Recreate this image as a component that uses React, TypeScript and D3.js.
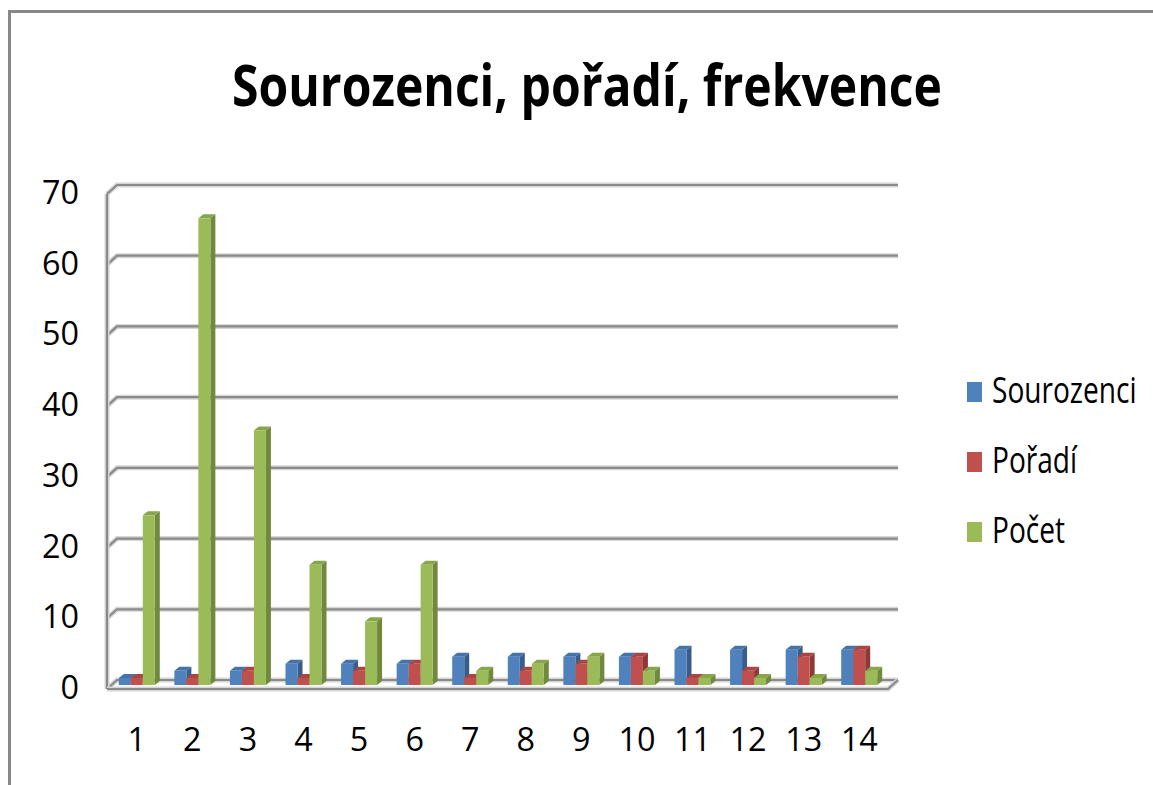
import React from 'react';
import * as d3 from 'd3';

const categories = ['1', '2', '3', '4', '5', '6', '7', '8', '9', '10', '11', '12', '13', '14'];
const sourozenci = [1, 2, 2, 3, 3, 3, 4, 4, 4, 4, 5, 5, 5, 5];
const poradi = [1, 1, 2, 1, 2, 3, 1, 2, 3, 4, 1, 2, 4, 5];
const pocet = [24, 66, 36, 17, 9, 17, 2, 3, 4, 2, 1, 1, 1, 2];
const seriesNames = ['Sourozenci', 'Pořadí', 'Počet'];
const yTicks = [0, 10, 20, 30, 40, 50, 60, 70];

const colors = ['#4F81BD', '#C0504D', '#9BBB59'];
const sideColors = ['#385D8A', '#8C3A38', '#71893F'];
const topColors = ['#4572A7', '#A94542', '#87A64B'];

const FONT = '"Open Sans", "Noto Sans", sans-serif';
const SX = 0.78; // legend text is horizontally squeezed
const SX_AXIS = 0.98;

function App() {
    const width = 1153;
    const height = 785;
    const series = [sourozenci, poradi, pocet];

    // back wall scale and bar scale (bars stand a bit in front of the wall)
    const yBack = d3.scaleLinear().domain([0, 70]).range([680, 185]);
    const yBar = d3.scaleLinear().domain([0, 70]).range([685, 190]);
    const x = d3.scaleBand().domain(categories).range([109, 887]);

    const wallDx = 10; // depth of left wall / floor
    const wallDy = 9;
    const backLeft = 117;
    const backRight = 898;

    const barW = 12;
    const depthX = 5;
    const depthY = 4;

    const grid = (y: number) =>
        `M${backLeft - wallDx},${y + wallDy} L${backLeft},${y} L${backRight},${y}`;

    return (
        <svg width={width} height={height} style={{ position: 'absolute', left: 0, top: 0 }}>
            <rect x={0} y={0} width={width} height={height} fill="#fff" />
            {/* outer frame (only top and left visible) */}
            <path d={`M9.5,${height} L9.5,11.5 L${width},11.5`} fill="none" stroke="#888" strokeWidth={3} />

            <text
                x={587}
                y={106}
                textAnchor="middle"
                fontFamily={FONT}
                fontWeight={700}
                fontSize={58}
                textLength={710}
                lengthAdjust="spacingAndGlyphs"
                fill="#000"
            >
                Sourozenci, pořadí, frekvence
            </text>

            {/* gridlines and walls */}
            <g fill="none" strokeLinejoin="miter">
                {yTicks.map((t) => (
                    <g key={t}>
                        <path d={grid(yBack(t))} stroke="#d6d6d6" strokeWidth={5} />
                        <path d={grid(yBack(t))} stroke="#8a8a8a" strokeWidth={2.2} />
                    </g>
                ))}
                <path
                    d={`M${backLeft - wallDx},${yBack(70) + wallDy} L${backLeft - wallDx},${yBack(0) + wallDy}`}
                    stroke="#d6d6d6"
                    strokeWidth={5}
                />
                <path
                    d={`M${backLeft - wallDx},${yBack(70) + wallDy} L${backLeft - wallDx},${yBack(0) + wallDy}`}
                    stroke="#8a8a8a"
                    strokeWidth={2.2}
                />
                <path
                    d={`M${backLeft - wallDx},${yBack(0) + wallDy} L${backRight - wallDx},${yBack(0) + wallDy} L${backRight},${yBack(0)}`}
                    stroke="#d6d6d6"
                    strokeWidth={5}
                />
                <path
                    d={`M${backLeft - wallDx},${yBack(0) + wallDy} L${backRight - wallDx},${yBack(0) + wallDy} L${backRight},${yBack(0)}`}
                    stroke="#8a8a8a"
                    strokeWidth={2.2}
                />
            </g>

            {/* bars */}
            {categories.map((c, i) => {
                const cx = (x(c) as number) + x.bandwidth() / 2;
                const x0 = cx - (barW * series.length) / 2;
                return (
                    <g key={c}>
                        {series.map((s, j) => {
                            const bx = x0 + j * barW;
                            const top = yBar(s[i]);
                            const base = yBar(0);
                            return (
                                <g key={j}>
                                    <path
                                        d={`M${bx + barW},${top} L${bx + barW + depthX},${top - depthY} L${bx + barW + depthX},${base - depthY} L${bx + barW},${base} Z`}
                                        fill={sideColors[j]}
                                    />
                                    <path
                                        d={`M${bx},${top} L${bx + depthX},${top - depthY} L${bx + barW + depthX},${top - depthY} L${bx + barW},${top} Z`}
                                        fill={topColors[j]}
                                    />
                                    <rect x={bx} y={top} width={barW} height={base - top} fill={colors[j]} />
                                </g>
                            );
                        })}
                    </g>
                );
            })}

            {/* y axis labels */}
            {yTicks.map((t) => (
                <text
                    key={t}
                    transform={`translate(79,${yBar(t) + 14}) scale(${SX_AXIS},1)`}
                    textAnchor="end"
                    fontFamily={FONT}
                    fontSize={33}
                    fill="#000"
                >
                    {t}
                </text>
            ))}

            {/* x axis labels */}
            {categories.map((c) => (
                <text
                    key={c}
                    transform={`translate(${(x(c) as number) + x.bandwidth() / 2},751) scale(${SX_AXIS},1)`}
                    textAnchor="middle"
                    fontFamily={FONT}
                    fontSize={33}
                    fill="#000"
                >
                    {c}
                </text>
            ))}

            {/* legend */}
            {seriesNames.map((name, j) => (
                <g key={name} transform={`translate(967,${392 + j * 70})`}>
                    <rect x={0} y={-10} width={15} height={20} fill={colors[j]} />
                    <text
                        transform={`translate(25,11) scale(${SX},1)`}
                        fontFamily={FONT}
                        fontSize={36}
                        fill="#000"
                    >
                        {name}
                    </text>
                </g>
            ))}
        </svg>
    );
}

export default App;
